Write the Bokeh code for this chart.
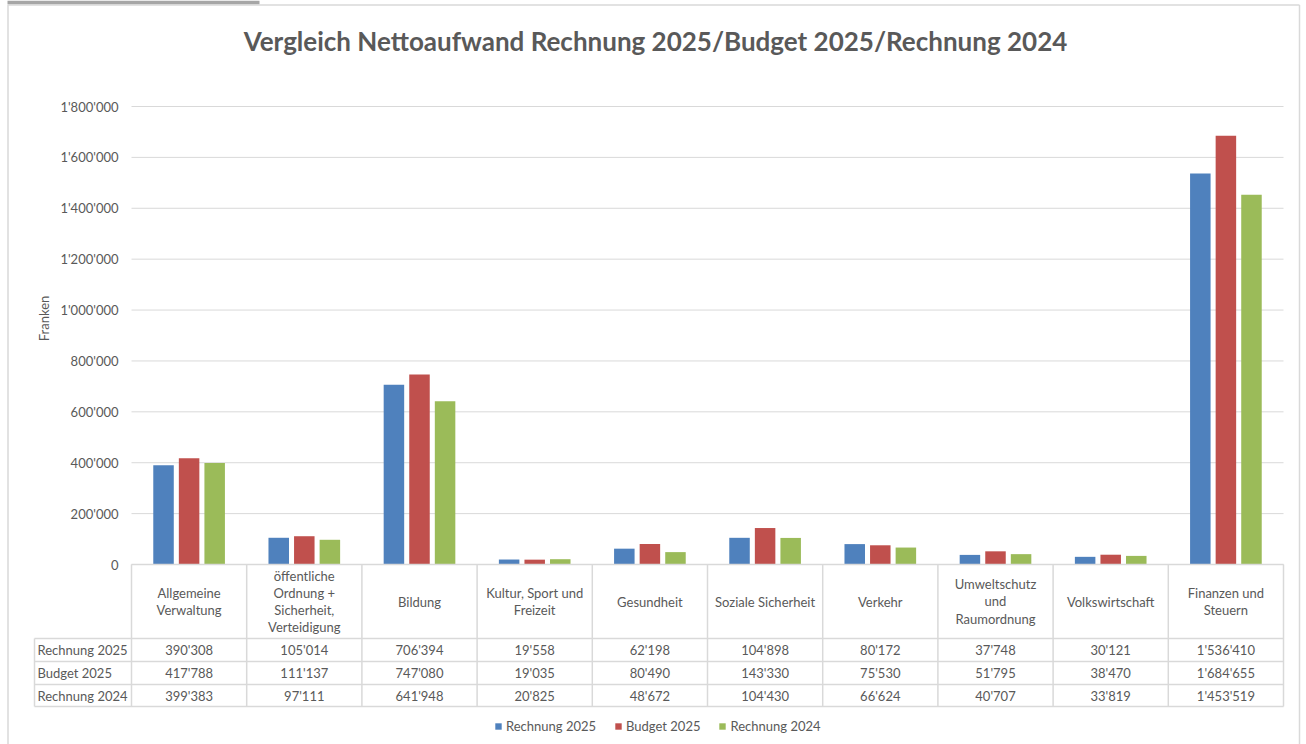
import numpy as np
from bokeh.plotting import figure
from bokeh.models import Range1d, Legend, LegendItem
from bokeh.core.properties import value
from bokeh.embed import file_html
from bokeh.resources import INLINE

# ---------------- data ----------------
categories = [
    "Allgemeine Verwaltung",
    "öffentliche Ordnung + Sicherheit, Verteidigung",
    "Bildung",
    "Kultur, Sport und Freizeit",
    "Gesundheit",
    "Soziale Sicherheit",
    "Verkehr",
    "Umweltschutz und Raumordnung",
    "Volkswirtschaft",
    "Finanzen und Steuern",
]
category_labels = [
    "Allgemeine\nVerwaltung",
    "öffentliche\nOrdnung +\nSicherheit,\nVerteidigung",
    "Bildung",
    "Kultur, Sport und\nFreizeit",
    "Gesundheit",
    "Soziale Sicherheit",
    "Verkehr",
    "Umweltschutz\nund\nRaumordnung",
    "Volkswirtschaft",
    "Finanzen und\nSteuern",
]
series_names = ["Rechnung 2025", "Budget 2025", "Rechnung 2024"]
rechnung_2025 = [390308, 105014, 706394, 19558, 62198, 104898, 80172, 37748, 30121, 1536410]
budget_2025 = [417788, 111137, 747080, 19035, 80490, 143330, 75530, 51795, 38470, 1684655]
rechnung_2024 = [399383, 97111, 641948, 20825, 48672, 104430, 66624, 40707, 33819, 1453519]
y_ticks = [0, 200000, 400000, 600000, 800000, 1000000, 1200000, 1400000, 1600000, 1800000]
y_tick_labels = ["0", "200'000", "400'000", "600'000", "800'000", "1'000'000",
                 "1'200'000", "1'400'000", "1'600'000", "1'800'000"]
title_text = "Vergleich Nettoaufwand Rechnung 2025/Budget 2025/Rechnung 2024"
y_axis_title = "Franken"

series_values = [rechnung_2025, budget_2025, rechnung_2024]
series_colors = ["#4F81BD", "#C0504D", "#9BBB59"]


def fmt(v):
    return f"{v:,}".replace(",", "'")


# ---------------- layout (pixels) ----------------
W, H = 1306, 744
PX_L, PX_R = 131, 1283          # category area
PY_ZERO, PY_TOP = 564, 106      # value 0 / value 1.8M
N = len(categories)
CAT_W = (PX_R - PX_L) / N
S = y_ticks[-1] / (PY_ZERO - PY_TOP)


def xd(px):
    return (px - PX_L) / CAT_W


def yd(py):
    return (PY_ZERO - py) * S


FONT = "Lato"
TXT = "#595959"
LINE = "#D9D9D9"

p = figure(width=W, height=H, x_range=Range1d(xd(0), xd(W)), y_range=Range1d(yd(H), yd(0)),
           output_backend="svg", toolbar_location=None,
           x_axis_location=None, y_axis_location=None,
           min_border=0, min_border_left=0, min_border_right=0,
           min_border_top=0, min_border_bottom=0)
p.grid.visible = False
p.outline_line_color = None
p.background_fill_color = "white"
p.border_fill_color = "white"

# decorations: chart border and top tab bar
p.quad(left=[xd(7)], right=[xd(259)], top=[yd(0)], bottom=[yd(4)], color="#A6A6A6", line_color=None)
p.segment(x0=[xd(7.5), xd(7.5), xd(1299)], y0=[yd(4.5), yd(4.5), yd(4.5)],
          x1=[xd(1299), xd(7.5), xd(1299)], y1=[yd(4.5), yd(H), yd(H)],
          line_color=LINE, line_width=1.5)

# gridlines
p.segment(x0=[0] * len(y_ticks), x1=[N] * len(y_ticks), y0=y_ticks, y1=y_ticks,
          line_color=LINE, line_width=1)

# bars
centers = np.arange(N) + 0.5
offsets = [-0.222, 0.0, 0.222]
bar_w = 0.178
renderers = []
for vals, col, off in zip(series_values, series_colors, offsets):
    r = p.vbar(x=centers + off, top=vals, bottom=0, width=bar_w, fill_color=col, line_color=None)
    renderers.append(r)

# y tick labels and axis title
p.text(x=[xd(118)] * len(y_ticks), y=y_ticks, text=y_tick_labels,
       text_font=value(FONT), text_font_size="13px", text_color=TXT,
       text_align="right", text_baseline="middle")
p.text(x=[xd(43)], y=[yd(318)], text=[y_axis_title], angle=np.pi / 2,
       text_font=value(FONT), text_font_size="13px", text_color=TXT,
       text_align="center", text_baseline="middle")

# title
p.text(x=[xd(655)], y=[yd(40)], text=[title_text],
       text_font=value(FONT), text_font_size="26px", text_font_style="bold", text_color=TXT,
       text_align="center", text_baseline="middle")

# data table
row_py = [638, 661, 684, 706]
p.segment(x0=[0], x1=[N], y0=[yd(PY_ZERO)], y1=[yd(PY_ZERO)], line_color=LINE, line_width=1.5)
p.segment(x0=[xd(34)] * 4, x1=[N] * 4, y0=[yd(v) for v in row_py], y1=[yd(v) for v in row_py],
          line_color=LINE, line_width=1.5)
vx = list(range(N + 1))
p.segment(x0=vx, x1=vx, y0=[yd(PY_ZERO)] * len(vx), y1=[yd(706)] * len(vx),
          line_color=LINE, line_width=1.5)
p.segment(x0=[xd(34)], x1=[xd(34)], y0=[yd(638)], y1=[yd(706)], line_color=LINE, line_width=1.5)

p.text(x=centers, y=[yd(601)] * N, text=category_labels,
       text_font=value(FONT), text_font_size="13px", text_color=TXT,
       text_align="center", text_baseline="middle", text_line_height=1.08)

row_centers = [(row_py[i] + row_py[i + 1]) / 2 for i in range(3)]
p.text(x=[xd(37)] * 3, y=[yd(c) for c in row_centers], text=series_names,
       text_font=value(FONT), text_font_size="13px", text_color=TXT,
       text_align="left", text_baseline="middle")
for vals, c in zip(series_values, row_centers):
    p.text(x=centers, y=[yd(c)] * N, text=[fmt(v) for v in vals],
           text_font=value(FONT), text_font_size="13px", text_color=TXT,
           text_align="center", text_baseline="middle")

# legend
legend = Legend(items=[LegendItem(label=n, renderers=[r]) for n, r in zip(series_names, renderers)],
                orientation="horizontal", location=(494, 10),
                border_line_color=None, background_fill_alpha=0,
                padding=0, margin=0, spacing=18, label_standoff=4,
                glyph_width=8, glyph_height=8, label_height=14,
                label_text_font=FONT, label_text_font_size="13px", label_text_color=TXT)
p.add_layout(legend)

open("out.html", "w").write(file_html(p, INLINE))
